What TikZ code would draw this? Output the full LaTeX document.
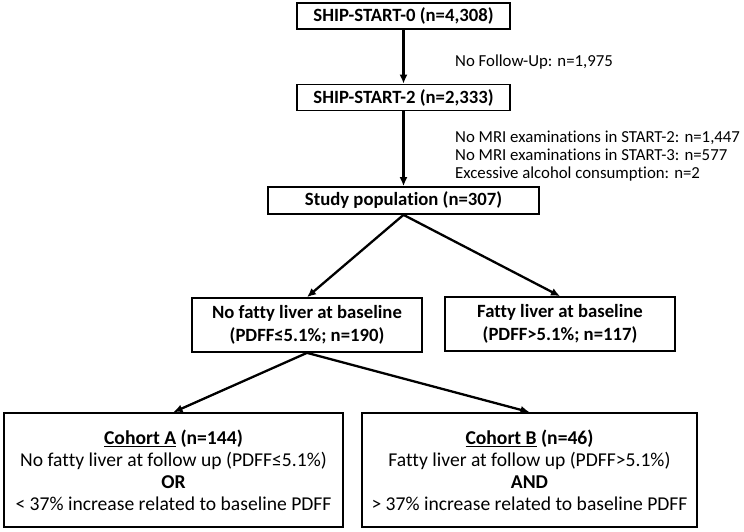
\documentclass[tikz,border=0pt]{standalone}
\usepackage{fontspec}
\setmainfont{Carlito}[Ligatures=CommonOff]
\usetikzlibrary{arrows.meta}
\begin{document}
\begin{tikzpicture}[x=1pt,y=-1pt,
  box/.style={draw,line width=1.7pt,inner sep=0pt,align=center,font=\fontsize{18.7}{23}\selectfont\bfseries},
  cbox/.style={draw,line width=1.7pt,inner sep=0pt,align=center,font=\fontsize{19.6}{22}\selectfont},
  note/.style={anchor=west,inner sep=0pt,align=left,font=\fontsize{16.8}{18}\selectfont},
  arr/.style={line width=2.3pt,-{Latex[length=9pt,width=8pt]}}]
\useasboundingbox (0,0) rectangle (744,531);
\node[box,minimum width=213pt,minimum height=26pt] (s0) at (403.5,16) {SHIP-START-0 (n=4,308)};
\node[box,minimum width=213pt,minimum height=26pt] (s2) at (403.5,97.5) {SHIP-START-2 (n=2,333)};
\node[box,minimum width=271pt,minimum height=27pt] (sp) at (403.5,200.5) {Study population (n=307)};
\node[box,minimum width=230pt,minimum height=54pt] (nf) at (307,325) {No fatty liver at baseline\\(PDFF≤5.1\%; n=190)};
\node[box,minimum width=230pt,minimum height=54pt] (fl) at (560,324) {Fatty liver at baseline\\(PDFF>5.1\%; n=117)};
\node[cbox,minimum width=339pt,minimum height=114pt] (ca) at (173.5,470) {\textbf{\underline{Cohort A} (n=144)}\\No fatty liver at follow up (PDFF≤5.1\%)\\\textbf{OR}\\< 37\% increase related to baseline PDFF};
\node[cbox,minimum width=335pt,minimum height=114pt] (cb) at (529.5,470) {\textbf{\underline{Cohort B} (n=46)}\\Fatty liver at follow up (PDFF>5.1\%)\\\textbf{AND}\\> 37\% increase related to baseline PDFF};
\node[note] (n1) at (455,62) {No Follow-Up: n=1,975};
\node[note] (n2) at (455,156) {No MRI examinations in START-2: n=1,447\\No MRI examinations in START-3: n=577\\Excessive alcohol consumption: n=2};
\draw[arr] (s0.south) -- (s2.north);
\draw[arr] (s2.south) -- (sp.north);
\draw[arr] (sp.south) -- (nf.north);
\draw[arr] (sp.south) -- (fl.north);
\draw[arr] (nf.south) -- (ca.north);
\draw[arr] (nf.south) -- (cb.north);
\end{tikzpicture}
\end{document}
